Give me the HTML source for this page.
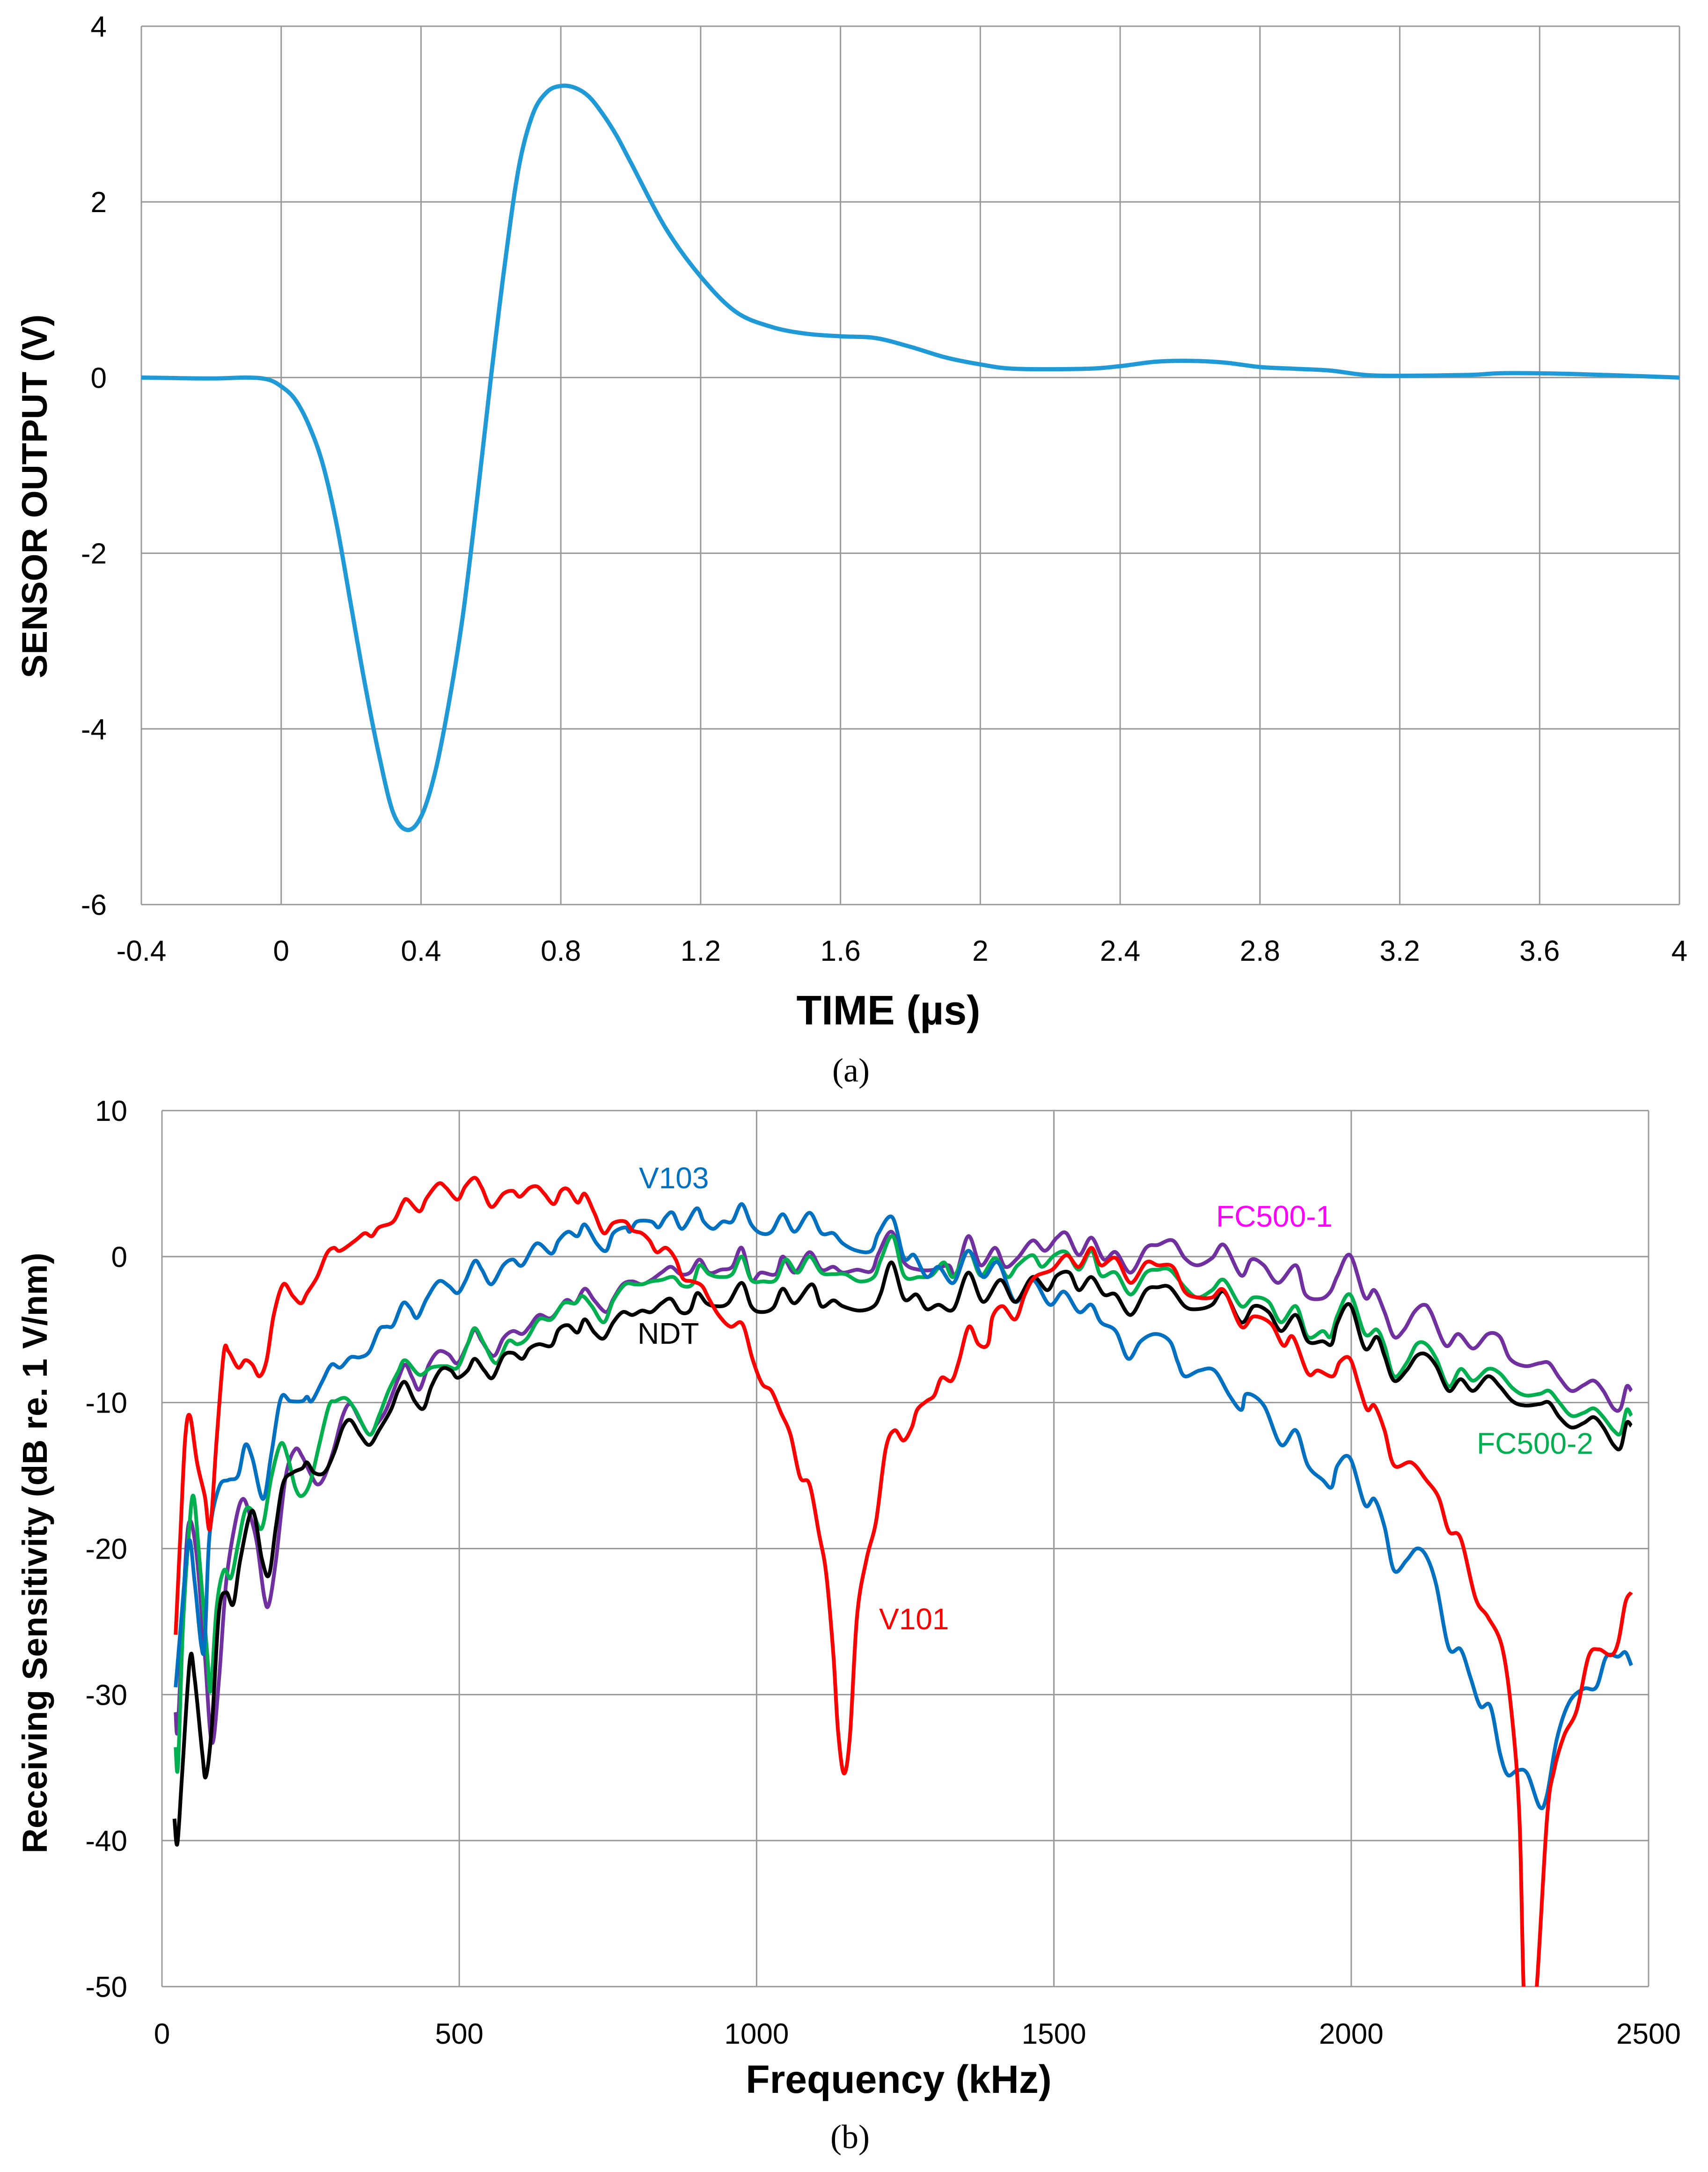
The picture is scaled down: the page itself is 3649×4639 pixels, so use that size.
<!DOCTYPE html>
<html><head><meta charset="utf-8"><style>
html,body{margin:0;padding:0;background:#fff}
svg{display:block}
text{font-family:"Liberation Sans",sans-serif}
</style></head><body>
<svg id="fig" width="3649" height="4639" viewBox="0 0 3649 4639" xmlns="http://www.w3.org/2000/svg">
<defs>
<clipPath id="clipA"><rect x="302" y="56" width="3286" height="1876"/></clipPath>
<clipPath id="clipB"><rect x="346" y="2372" width="3176" height="1871"/></clipPath>
</defs>
<g id="chartA"></g>
<g id="chartB"></g>
<text x="1898" y="2188" text-anchor="middle" font-size="88" font-weight="bold">TIME  (µs)</text>
<text x="1818" y="2310" text-anchor="middle" font-size="72" style="font-family:'Liberation Serif',serif">(a)</text>
<text transform="translate(100,1060) rotate(-90)" text-anchor="middle" font-size="76" font-weight="bold">SENSOR OUTPUT  (V)</text>
<text x="1920" y="4470" text-anchor="middle" font-size="84" font-weight="bold">Frequency  (kHz)</text>
<text x="1816" y="4588" text-anchor="middle" font-size="72" style="font-family:'Liberation Serif',serif">(b)</text>
<text transform="translate(100,3317) rotate(-90)" text-anchor="middle" font-size="74" font-weight="bold">Receiving Sensitivity (dB re. 1 V/nm)</text>
<text x="1365" y="2538" font-size="64" fill="#0070c0">V103</text>
<text x="1362" y="2870" font-size="64" fill="#000">NDT</text>
<text x="2598" y="2620" font-size="64" fill="#ff00ff">FC500-1</text>
<text x="3155" y="3105" font-size="64" fill="#00b050">FC500-2</text>
<text x="1878" y="3480" font-size="64" fill="#ff0000">V101</text>
</svg>
<script>
// ---- Chart A data ----
const timeVals=[-0.4,-0.2,-0.1,-0.04,0,0.04,0.08,0.12,0.16,0.2,0.24,0.28,0.32,0.36,0.4,0.44,0.48,0.52,0.56,0.6,0.64,0.68,0.72,0.76,0.8,0.84,0.88,0.92,0.96,1.0,1.1,1.2,1.3,1.4,1.5,1.6,1.7,1.8,1.9,2.0,2.1,2.3,2.4,2.5,2.6,2.7,2.8,2.9,3.0,3.1,3.2,3.4,3.5,3.7,4.0];
const voltVals=[0,-0.01,0,-0.02,-0.1,-0.25,-0.55,-1.0,-1.7,-2.6,-3.5,-4.3,-4.95,-5.15,-5.0,-4.5,-3.7,-2.7,-1.4,0.0,1.3,2.4,3.0,3.25,3.32,3.3,3.2,3.0,2.75,2.45,1.7,1.15,0.75,0.58,0.5,0.47,0.45,0.35,0.23,0.15,0.1,0.1,0.13,0.18,0.19,0.17,0.12,0.1,0.08,0.03,0.02,0.03,0.05,0.04,0.0];
const timeTicks=["-0.4","0","0.4","0.8","1.2","1.6","2","2.4","2.8","3.2","3.6","4"];
const voltTicks=["4","2","0","-2","-4","-6"];
// ---- Chart B data ----
const freqTicks=["0","500","1000","1500","2000","2500"];
const dbTicks=["10","0","-10","-20","-30","-40","-50"];
const v101F=[23,31,39,47,59,72,81,92,104,112,128,140,152,164,176,188,204,220,234,244,261,277,289,300,325,341,353,365,389,405,413,433,445,465,478,497,510,526,538,554,574,590,602,618,631,643,659,671,683,699,711,727,743,759,779,791,807,820,832,848,864,876,892,908,920,936,956,976,993,1009,1025,1041,1057,1073,1089,1105,1117,1129,1137,1147,1157,1169,1185,1201,1217,1232,1247,1261,1270,1286,1299,1311,1328,1340,1357,1373,1389,1397,1414,1435,1451,1468,1497,1521,1542,1563,1579,1604,1629,1655,1675,1700,1720,1741,1766,1786,1815,1836,1865,1886,1902,1927,1944,1969,1981,1998,2014,2027,2039,2056,2072,2101,2126,2147,2164,2184,2209,2230,2254,2271,2283,2292,2308,2329,2341,2358,2379,2399,2416,2437,2449,2461,2471];
const v101Db=[-25.9,-19,-12.5,-10.9,-14.1,-16.4,-18.6,-12.5,-6.6,-6.5,-7.6,-7.1,-7.4,-8.2,-7.1,-4,-1.9,-2.7,-3.2,-2.5,-1.4,0.2,0.6,0.4,1.1,1.6,1.4,2.0,2.4,3.7,3.9,3.1,4.0,5,4.7,3.9,4.8,5.4,4.7,3.4,4.3,4.5,4.1,4.7,4.8,4.3,3.6,4.5,4.6,3.7,4.3,3.0,1.6,2.3,2.4,1.8,1.6,1.1,0.3,0.6,-0.2,-1.5,-1.7,-2.0,-2.9,-4,-4.8,-4.6,-7,-8.7,-9.2,-10.7,-12.2,-15.1,-15.6,-19,-21.7,-27.2,-32.5,-35.4,-32.8,-24.6,-20.7,-18.1,-13.2,-11.9,-12.6,-11.7,-10.5,-9.9,-9.5,-8.3,-8.5,-7.2,-4.8,-6.0,-6.0,-4.1,-3.4,-4.3,-2.6,-1.4,-0.9,0.1,-0.7,0.6,-0.6,-0.1,-1.8,-0.4,-0.6,-0.7,-2.4,-2.8,-2.8,-2.3,-4.8,-4.1,-4.6,-6.1,-5.5,-8.0,-7.8,-8.2,-7.2,-7.0,-9.0,-10.5,-10.2,-11.9,-14.3,-14.1,-15.3,-16.5,-18.8,-19.3,-23.4,-24.7,-26.8,-31.8,-38.6,-52,-52,-38.6,-35.2,-32.8,-31.1,-27.4,-26.9,-27.3,-26.4,-23.7,-23.0];
const v103F=[23,31,45,55,66,72,80,96,112,128,140,152,170,184,200,216,236,244,252,269,285,300,317,333,349,365,377,389,405,417,429,445,465,482,497,510,526,538,554,574,590,606,630,655,667,683,699,711,731,747,759,779,787,799,823,835,847,859,875,899,911,927,943,959,975,991,1007,1025,1044,1064,1089,1109,1129,1145,1169,1193,1205,1228,1248,1265,1286,1306,1331,1356,1381,1406,1435,1464,1493,1517,1542,1563,1579,1604,1625,1646,1671,1695,1708,1720,1745,1770,1795,1815,1824,1853,1882,1907,1927,1952,1967,1977,1998,2023,2039,2056,2072,2093,2110,2126,2143,2164,2184,2201,2217,2234,2250,2263,2279,2296,2317,2329,2346,2367,2391,2412,2429,2449,2461,2471];
const v103Db=[-29.5,-25.6,-19.5,-22.3,-26.6,-26.4,-19.1,-15.8,-15.3,-15,-12.9,-13.8,-16.6,-13.5,-9.7,-9.9,-9.9,-9.6,-9.9,-8.6,-7.4,-7.6,-6.9,-6.9,-6.5,-5,-4.8,-4.7,-3.2,-3.5,-4.2,-2.9,-1.7,-2.0,-2.5,-1.7,-0.3,-0.9,-1.9,-0.6,-0.2,-0.6,0.9,0.2,1.1,1.7,1.4,2.2,0.9,0.4,1.6,2.0,1.7,2.4,2.4,2.0,2.7,3.0,1.9,3.3,2.4,1.9,2.4,2.4,3.6,2.2,1.6,1.7,2.9,1.7,3.0,1.6,1.6,0.9,0.4,0.4,1.6,2.7,-0.1,0.1,-1.4,-0.7,-1.8,0.4,-1.4,-0.4,-3.1,-1.6,-3.3,-2.4,-3.8,-3.3,-4.5,-5.1,-7.0,-5.8,-5.3,-5.8,-7.2,-8.2,-7.8,-7.8,-9.5,-10.5,-9.4,-10.2,-12.9,-11.9,-14.3,-15.3,-15.8,-14.3,-13.8,-17.0,-16.6,-18.5,-21.5,-20.8,-20.0,-20.5,-22.5,-26.8,-26.9,-28.9,-30.8,-30.8,-34.0,-35.5,-35.2,-35.4,-37.7,-36.9,-33.0,-30.5,-29.6,-29.5,-27.4,-27.4,-27.1,-28.0];
const fc1F=[23,27,39,47,59,72,84,96,108,124,136,148,160,172,180,192,208,224,236,249,261,273,289,304,317,333,349,361,377,397,409,421,433,449,465,482,497,514,526,538,558,574,590,606,618,634,655,679,695,711,727,747,759,775,791,807,823,840,856,872,888,904,920,940,959,975,991,1007,1032,1044,1064,1089,1109,1129,1145,1169,1193,1205,1227,1248,1273,1298,1323,1335,1356,1377,1401,1418,1439,1464,1485,1505,1521,1542,1563,1584,1604,1629,1655,1675,1700,1720,1741,1766,1786,1815,1832,1853,1877,1907,1923,1948,1965,1977,1998,2023,2039,2056,2072,2089,2106,2122,2134,2159,2180,2205,2230,2250,2267,2292,2317,2333,2350,2370,2391,2408,2424,2441,2453,2463,2471];
const fc1Db=[-31.2,-32.1,-21.3,-18.1,-20.7,-27.2,-33.3,-28.9,-22.3,-18.1,-16.6,-17.7,-19.7,-23.3,-23.8,-20.7,-15.1,-13.2,-13.7,-14.8,-15.6,-15.1,-13.2,-10.9,-10.1,-11.2,-12.2,-11.5,-10.5,-8.4,-7.4,-8.3,-9.1,-7.4,-6.5,-6.7,-7.3,-6.0,-5.0,-5.8,-6.8,-5.6,-5.1,-5.3,-4.8,-4.0,-4.2,-3.0,-3.2,-2.2,-3.0,-3.8,-2.9,-1.9,-1.7,-1.9,-1.6,-1.1,-0.7,-1.2,-1.1,-0.2,-1.1,-0.9,-0.7,0.6,-1.6,-1.1,-1.2,0.0,-1.1,0.3,-0.9,-0.7,-1.1,-0.9,-1.0,0.2,1.7,-0.4,-0.9,-0.9,-0.6,-1.3,1.4,-0.6,0.6,-0.7,-0.1,1.1,0.4,1.3,1.6,0.1,1.3,-0.2,0.3,-1.1,0.6,0.8,1.1,-0.1,-0.6,-0.1,0.8,-1.3,-0.2,-0.6,-1.8,-0.6,-2.6,-2.9,-2.4,-1.3,0.1,-2.8,-2.3,-3.8,-5.5,-5.0,-3.8,-3.3,-3.8,-6.1,-5.3,-6.3,-5.3,-5.5,-7.0,-7.5,-7.3,-7.3,-8.3,-9.2,-8.8,-8.5,-9.2,-10.4,-10.4,-8.9,-9.2];
const fc2F=[23,27,35,45,53,63,76,82,92,104,116,128,140,152,168,184,200,212,224,235,249,265,281,292,309,325,349,365,381,397,409,433,453,478,497,514,526,542,562,582,598,614,634,655,675,695,707,723,743,759,779,795,807,823,840,860,875,892,904,920,940,959,975,991,1011,1032,1049,1069,1089,1109,1129,1149,1173,1197,1209,1229,1248,1273,1294,1315,1331,1356,1377,1401,1422,1439,1464,1480,1501,1521,1542,1563,1579,1604,1629,1655,1675,1695,1720,1741,1766,1786,1815,1836,1861,1882,1907,1927,1952,1965,1977,1998,2023,2043,2056,2072,2093,2110,2126,2143,2164,2184,2205,2230,2250,2271,2292,2317,2333,2350,2370,2391,2408,2424,2441,2453,2463,2471];
const fc2Db=[-33.6,-34.9,-25.6,-19.1,-16.4,-20.7,-27.2,-29.7,-24.0,-21.5,-22.0,-19.7,-17.4,-17.4,-18.6,-15.1,-12.8,-13.8,-15.8,-16.4,-15.5,-12.8,-10.2,-9.9,-9.7,-10.5,-12.2,-10.9,-9.2,-7.9,-7.1,-8.1,-7.6,-7.5,-7.6,-6.0,-4.9,-6.0,-7.3,-5.8,-6.0,-5.6,-4.3,-4.3,-3.2,-3.2,-2.7,-3.4,-4.5,-3.0,-1.9,-1.9,-1.9,-1.7,-1.6,-1.4,-2.0,-1.9,-0.6,-1.2,-1.4,-1.2,0.0,-1.6,-1.7,-1.6,-0.2,-1.1,0.0,-1.1,-1.2,-1.2,-1.7,-1.4,-0.2,1.4,-1.3,-1.4,-1.3,-0.4,-1.4,0.4,-1.3,-0.1,-1.4,-0.6,0.1,-0.7,0.1,0.3,-0.9,0.4,-1.3,-1.1,-2.6,-1.1,-0.9,-0.9,-2.1,-2.8,-2.3,-1.6,-3.4,-2.8,-3.1,-4.5,-3.4,-5.5,-5.1,-5.5,-4.0,-2.6,-5.3,-5.0,-6.1,-8.2,-7.3,-6.0,-6.0,-7.0,-8.9,-7.7,-8.5,-7.7,-8.0,-9.0,-9.5,-9.4,-9.2,-10.0,-10.9,-10.7,-10.4,-11.0,-11.9,-12.1,-10.5,-10.9];
const ndtF=[21,26,34,47,55,68,74,84,96,108,120,132,152,168,180,192,204,220,236,244,256,273,289,304,317,333,349,365,385,397,409,425,440,453,470,486,497,514,526,542,556,574,590,606,618,634,655,667,683,699,711,727,743,759,775,791,807,823,840,856,872,888,900,916,932,952,975,991,1007,1028,1044,1064,1093,1109,1129,1145,1173,1197,1209,1227,1248,1269,1286,1306,1331,1356,1381,1410,1435,1464,1489,1505,1526,1542,1563,1584,1604,1629,1655,1675,1695,1720,1741,1766,1786,1815,1836,1861,1882,1907,1927,1952,1967,1977,1998,2023,2043,2056,2072,2093,2110,2126,2143,2164,2184,2205,2230,2250,2271,2292,2317,2333,2350,2370,2391,2408,2424,2441,2453,2463,2471];
const ndtDb=[-38.5,-40.2,-35.4,-27.6,-28.9,-34.1,-35.6,-32.1,-24.3,-23.0,-23.8,-20.7,-17.4,-20.7,-21.8,-18.4,-15.5,-14.8,-14.5,-14.1,-14.8,-14.8,-13.5,-11.7,-11.2,-12.2,-12.9,-11.9,-10.5,-9.2,-8.6,-9.9,-10.4,-8.9,-7.7,-7.8,-8.3,-7.8,-7.0,-7.8,-8.3,-6.8,-6.6,-7.0,-6.3,-6.0,-6.1,-5.0,-4.7,-5.2,-4.3,-5.2,-5.6,-4.5,-3.8,-4.0,-3.7,-3.8,-3.2,-2.9,-3.8,-3.7,-2.5,-3.2,-3.4,-3.2,-1.8,-3.4,-3.8,-3.5,-2.2,-3.2,-1.9,-3.4,-3.0,-3.4,-3.7,-3.4,-2.5,-0.4,-2.9,-2.6,-3.6,-3.3,-3.6,-1.1,-3.1,-1.6,-3.1,-1.4,-2.3,-1.3,-1.1,-2.3,-1.4,-2.6,-2.6,-4.0,-2.3,-2.1,-2.1,-3.4,-3.6,-3.3,-2.4,-4.5,-3.4,-3.8,-5.1,-4.0,-5.8,-5.8,-6.0,-4.5,-3.3,-6.3,-5.5,-6.8,-8.5,-7.8,-6.8,-6.7,-7.5,-9.2,-8.4,-9.2,-8.2,-8.9,-9.9,-10.2,-10.1,-10.0,-11.0,-11.7,-11.4,-11.0,-11.7,-12.9,-13.1,-11.4,-11.6];

const NS="http://www.w3.org/2000/svg";
function mk(tag,attrs,parent){const e=document.createElementNS(NS,tag);for(const k in attrs)e.setAttribute(k,attrs[k]);parent.appendChild(e);return e;}

// Chart A axes
const A={x0:302,x1:3588,y0:56,y1:1932,tmin:-0.4,tmax:4,vmin:-6,vmax:4};
function ax(t){return A.x0+(t-A.tmin)/(A.tmax-A.tmin)*(A.x1-A.x0);}
function ay(v){return A.y1-(v-A.vmin)/(A.vmax-A.vmin)*(A.y1-A.y0);}
const gA=document.getElementById('chartA');
timeTicks.forEach(function(lbl){
  const x=ax(parseFloat(lbl));
  const l=mk('line',{x1:x,x2:x,y1:A.y0,y2:A.y1,stroke:'#999','stroke-width':3},gA);
  
  
  const t=mk('text',{x:x,y:2052,'text-anchor':'middle','font-size':62},gA);
  t.textContent=lbl;
  
  
});
voltTicks.forEach(function(lbl){
  const y=ay(parseFloat(lbl));
  const l=mk('line',{x1:A.x0,x2:A.x1,y1:y,y2:y,stroke:'#999','stroke-width':3},gA);
  
  
  const t=mk('text',{x:228,y:y+22,'text-anchor':'end','font-size':62},gA);
  t.textContent=lbl;
  
  
});
function smoothPath(pts){
  let d='M'+pts[0][0].toFixed(1)+','+pts[0][1].toFixed(1);
  for(let i=0;i<pts.length-1;i++){
    const p0=pts[Math.max(0,i-1)],p1=pts[i],p2=pts[i+1],p3=pts[Math.min(pts.length-1,i+2)];
    const c1x=p1[0]+(p2[0]-p0[0])/6,c1y=p1[1]+(p2[1]-p0[1])/6;
    const c2x=p2[0]-(p3[0]-p1[0])/6,c2y=p2[1]-(p3[1]-p1[1])/6;
    d+='C'+c1x.toFixed(1)+','+c1y.toFixed(1)+' '+c2x.toFixed(1)+','+c2y.toFixed(1)+' '+p2[0].toFixed(1)+','+p2[1].toFixed(1);
  }
  return d;
}
const ptsA=timeVals.map(function(t,i){return [ax(t),ay(voltVals[i])];});
const lineA=mk('path',{d:smoothPath(ptsA),fill:'none',stroke:'#1f9ad6','stroke-width':9,'stroke-linejoin':'round','clip-path':'url(#clipA)'},gA);



// Chart B axes
const B={x0:346,x1:3522,y0:2372,y1:4243,fmin:0,fmax:2500,dmin:-50,dmax:10};
function bx(f){return B.x0+(f-B.fmin)/(B.fmax-B.fmin)*(B.x1-B.x0);}
function by(d){return B.y1-(d-B.dmin)/(B.dmax-B.dmin)*(B.y1-B.y0);}
const gB=document.getElementById('chartB');
freqTicks.forEach(function(lbl){
  const x=bx(parseFloat(lbl));
  const l=mk('line',{x1:x,x2:x,y1:B.y0,y2:B.y1,stroke:'#999','stroke-width':3},gB);
  
  
  const t=mk('text',{x:x,y:4365,'text-anchor':'middle','font-size':62},gB);
  t.textContent=lbl;
  
  
});
dbTicks.forEach(function(lbl){
  const y=by(parseFloat(lbl));
  const l=mk('line',{x1:B.x0,x2:B.x1,y1:y,y2:y,stroke:'#999','stroke-width':3},gB);
  
  
  const t=mk('text',{x:272,y:y+22,'text-anchor':'end','font-size':62},gB);
  t.textContent=lbl;
  
  
});
function drawSeries(F,D,color,name){
  const pts=F.map(function(f,i){return [bx(f),by(D[i])];});
  const p=mk('path',{d:smoothPath(pts),fill:'none',stroke:color,'stroke-width':8,'stroke-linejoin':'round','clip-path':'url(#clipB)'},gB);
  
  
}
drawSeries(fc1F,fc1Db,'#7030a0','fc500-1-line');
drawSeries(fc2F,fc2Db,'#00b050','fc500-2-line');
drawSeries(v103F,v103Db,'#0070c0','v103-line');
drawSeries(ndtF,ndtDb,'#000000','ndt-line');
drawSeries(v101F,v101Db,'#ff0000','v101-line');
</script>
</body></html>
